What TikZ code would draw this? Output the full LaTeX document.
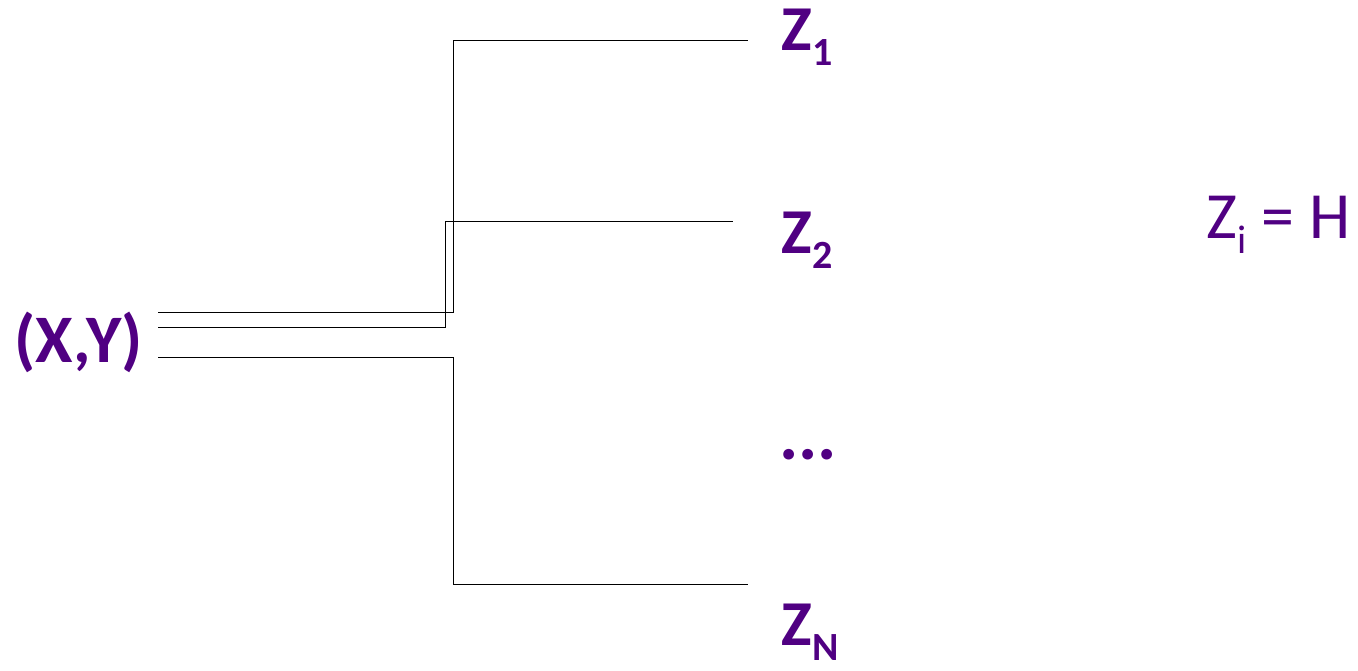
\documentclass[tikz,border=0pt]{standalone}
\usepackage{fontspec}
\setmainfont{Carlito}
\usetikzlibrary{positioning}
\definecolor{zpurple}{RGB}{80,0,130}
\newcommand{\zsub}[1]{\raisebox{-0.24em}{\fontsize{20}{20}\selectfont #1}}

\begin{document}
\begin{tikzpicture}[
  x=0.5pt, y=-0.5pt,
  lbl/.style={text=zpurple, inner sep=0pt, anchor=base west,
              font=\fontsize{32}{38}\selectfont\bfseries},
  eqn/.style={lbl, font=\fontsize{33}{40}\selectfont},
  link/.style={draw=black, line width=0.5pt}
]
\useasboundingbox (0,0) rectangle (1358,670);

% Source and targets
\node[lbl, font=\fontsize{34}{40}\selectfont\bfseries] (src) at (14,362) {(X,Y)};
\node[lbl] (z1) at (781,50)  {Z\zsub{1}};
\node[lbl] (z2) at (781,253) {Z\zsub{2}};
\node[lbl, font=\fontsize{36}{40}\selectfont\bfseries] (zd) at (779,459) {...};
\node[lbl] (zn) at (781,645) {Z\zsub{N}};
\node[eqn] (rule) at (1206,238) {Z\zsub{i} = H};

% Branch points
\coordinate (s1) at (158,312);
\coordinate (s2) at (158,327);
\coordinate (s3) at (158,357);
\coordinate (k1) at (453,40);
\coordinate (k2) at (445,221);
\coordinate (k3) at (453,584);
\coordinate (e1) at (748,40);
\coordinate (e2) at (733,221);
\coordinate (e3) at (748,584);

% Connectors
\draw[link] (s1) -| (k1) -- (e1);
\draw[link] (s2) -| (k2) -- (e2);
\draw[link] (s3) -| (k3) -- (e3);
\end{tikzpicture}
\end{document}
